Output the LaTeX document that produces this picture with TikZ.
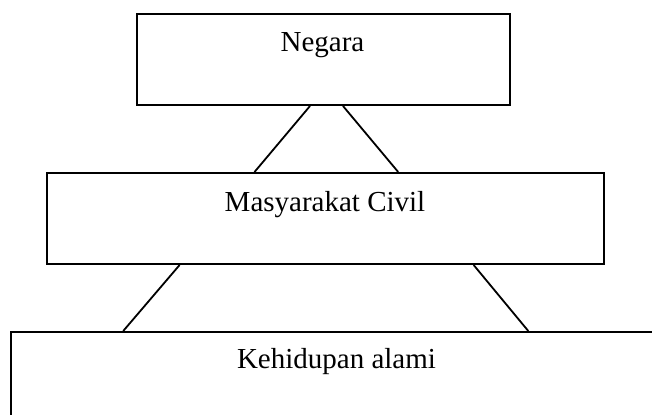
\documentclass[tikz,border=0pt]{standalone}
\usepackage{fontspec}
\setmainfont{Liberation Serif}
\usetikzlibrary{calc}
\begin{document}
\begin{tikzpicture}[x=0.5pt,y=-0.5pt,
  box/.style={draw,line width=1pt,rectangle,inner sep=0pt,anchor=north west},
  lbl/.style={anchor=base,font=\fontsize{14.5pt}{17pt}\selectfont,inner sep=0pt},
  link/.style={line width=0.9pt}]
\clip (0,0) rectangle (652,415);
\node[box,minimum width=186.5pt,minimum height=45.5pt] (negara) at (136,13) {};
\node[box,minimum width=278.5pt,minimum height=45.5pt] (civil) at (46,172) {};
\node[box,minimum width=350pt,minimum height=60pt] (alam) at (9.5,331) {};
\node[lbl] (tnegara) at (322.5,52) {Negara};
\node[lbl] (tcivil) at (325,212) {Masyarakat Civil};
\node[lbl] (talam) at (336.5,369) {Kehidupan alami};
\draw[link] ($(negara.south west)!0.464!(negara.south east)$) -- ($(civil.north west)!0.373!(civil.north east)$);
\draw[link] ($(negara.south west)!0.552!(negara.south east)$) -- ($(civil.north west)!0.630!(civil.north east)$);
\draw[link] ($(civil.south west)!0.239!(civil.south east)$) -- ($(alam.north west)!0.162!(alam.north east)$);
\draw[link] ($(civil.south west)!0.765!(civil.south east)$) -- ($(alam.north west)!0.739!(alam.north east)$);
\end{tikzpicture}
\end{document}
